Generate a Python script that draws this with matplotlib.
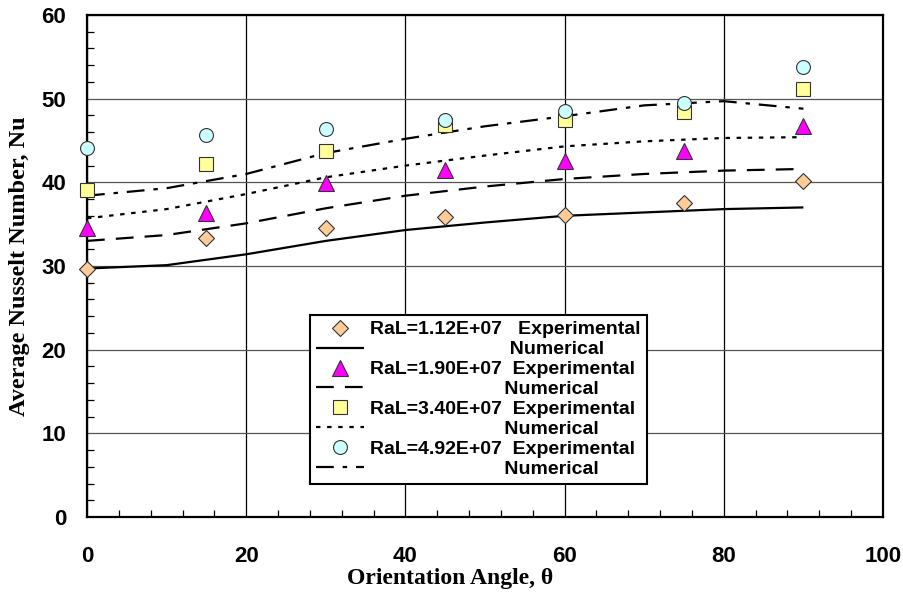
import matplotlib
matplotlib.use("Agg")
import matplotlib.pyplot as plt
from matplotlib.ticker import MultipleLocator

# Experimental data
angles_exp = [0, 15, 30, 45, 60, 75, 90]
nu_exp_112 = [29.6, 33.3, 34.6, 35.9, 36.1, 37.5, 40.1]
nu_exp_190 = [34.6, 36.3, 39.9, 41.5, 42.5, 43.8, 46.7]
nu_exp_340 = [39.1, 42.2, 43.7, 46.8, 47.5, 48.4, 51.1]
nu_exp_492 = [44.1, 45.6, 46.4, 47.5, 48.5, 49.5, 53.8]

# Numerical data
angles_num = [0, 10, 20, 30, 40, 50, 60, 70, 80, 90]
nu_num_112 = [29.7, 30.1, 31.4, 33.0, 34.3, 35.2, 36.0, 36.4, 36.8, 37.0]
nu_num_190 = [33.0, 33.7, 35.1, 36.9, 38.4, 39.5, 40.4, 41.0, 41.4, 41.6]
nu_num_340 = [35.7, 36.8, 38.6, 40.6, 42.0, 43.2, 44.3, 44.9, 45.3, 45.4]
nu_num_492 = [38.4, 39.3, 41.0, 43.5, 45.2, 46.7, 47.9, 49.2, 49.7, 48.8]

labels_ra = ["RaL=1.12E+07", "RaL=1.90E+07", "RaL=3.40E+07", "RaL=4.92E+07"]

fig = plt.figure(figsize=(9.04, 6.02), dpi=100)
ax = fig.add_axes([87/904, 85/602, 796/904, 502/602])

ax.set_xlim(0, 100)
ax.set_ylim(0, 60)
ax.xaxis.set_major_locator(MultipleLocator(20))
ax.xaxis.set_minor_locator(MultipleLocator(4))
ax.yaxis.set_major_locator(MultipleLocator(10))
ax.yaxis.set_minor_locator(MultipleLocator(2))
ax.grid(True, which='major', axis='x', color='black', linewidth=0.9)
ax.grid(True, which='major', axis='y', color='#555555', linewidth=0.9)
ax.set_axisbelow(True)

for s in ax.spines.values():
    s.set_linewidth(1.6)

ax.tick_params(which='both', direction='in', top=False, right=False)
ax.tick_params(which='major', length=0)
ax.tick_params(which='minor', length=5, width=0.9)
ax.tick_params(axis='x', which='major', pad=21)
ax.tick_params(axis='y', which='major', pad=15)
for lab in ax.get_xticklabels() + ax.get_yticklabels():
    lab.set_fontfamily('Liberation Sans')
    lab.set_fontweight('bold')
    lab.set_fontsize(16)

ax.set_xlabel("Orientation Angle, θ", fontfamily='Liberation Serif',
              fontweight='bold', fontsize=17)
ax.xaxis.set_label_coords((450 - 87) / 796, -0.102, transform=ax.transAxes)
ax.xaxis.label.set_va('top')
ax.set_ylabel("Average Nusselt Number, Nu", fontfamily='Liberation Serif',
              fontweight='bold', fontsize=17.5, labelpad=8)

lw = 1.6
h = []
l = []
specs = [
    (nu_exp_112, nu_num_112, 'D', '#FFCC99', 8, (0, ())),
    (nu_exp_190, nu_num_190, '^', '#FF00FF', 11, (0, (8, 5))),
    (nu_exp_340, nu_num_340, 's', '#FFFF99', 10, (0, (2, 3))),
    (nu_exp_492, nu_num_492, 'o', '#CCFFFF', 10, (0, (8, 4, 2, 4))),
]
for i, (ye, yn, mk, fc, ms, ls) in enumerate(specs):
    ln, = ax.plot(angles_num, yn, color='black', linewidth=lw, linestyle=ls, zorder=3)
    mkh, = ax.plot(angles_exp, ye, linestyle='none', marker=mk, markersize=ms,
                   markerfacecolor=fc, markeredgecolor='#333333',
                   markeredgewidth=0.8, clip_on=False, zorder=4)
    h += [mkh, ln]
    sp = "   " if i == 0 else "  "
    pad_n = 26 if i == 0 else 25
    l += [labels_ra[i] + sp + "Experimental", " " * pad_n + "Numerical"]

leg = ax.legend(h, l, loc='upper left', bbox_to_anchor=(223/796, 202/502),
                frameon=True, fancybox=False, edgecolor='black',
                prop={'family': 'Liberation Sans', 'weight': 'bold', 'size': 14},
                handlelength=2.5, handletextpad=0.3, labelspacing=0.12,
                borderpad=0.3, borderaxespad=0, framealpha=1)
leg.get_frame().set_linewidth(1.5)

fig.savefig("out.png", dpi=100)
